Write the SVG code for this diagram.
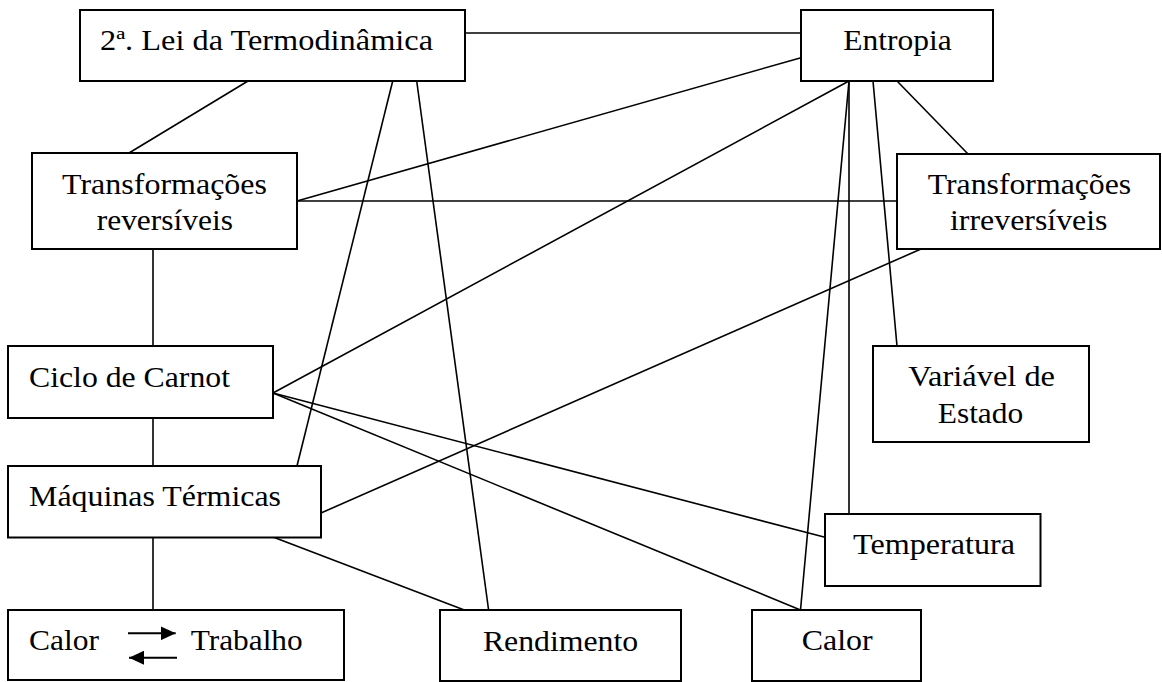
<svg xmlns="http://www.w3.org/2000/svg" width="1162" height="682" viewBox="0 0 1162 682">
<style>
rect.box{fill:#fff;stroke:#000;stroke-width:2}
.edges line{stroke:#000;stroke-width:1.6}
text{font-family:"Liberation Serif","Times New Roman",serif;font-size:29px;fill:#000}
</style>
<defs>
<marker id="ah" viewBox="0 0 15 14" refX="15" refY="7" markerWidth="15" markerHeight="14" markerUnits="userSpaceOnUse" orient="auto">
<polygon points="0,0 15,7 0,14" fill="#000"/>
</marker>
</defs>
<rect width="1162" height="682" fill="#fff"/>
<g class="edges" id="connectors">
<line x1="465" y1="33" x2="801" y2="33"/>
<line x1="248" y1="81" x2="129" y2="153"/>
<line x1="392.7" y1="81" x2="297" y2="466"/>
<line x1="416.7" y1="81" x2="488.6" y2="610"/>
<line x1="801" y1="57.7" x2="297" y2="201"/>
<line x1="297" y1="201" x2="897" y2="201"/>
<line x1="849" y1="81" x2="273" y2="393"/>
<line x1="849" y1="81" x2="849" y2="514"/>
<line x1="849" y1="81" x2="800.5" y2="610"/>
<line x1="873" y1="81" x2="897" y2="346"/>
<line x1="897" y1="81" x2="968" y2="154"/>
<line x1="921" y1="249" x2="321" y2="513"/>
<line x1="273" y1="393" x2="825" y2="537.3"/>
<line x1="273" y1="393" x2="800.5" y2="610"/>
<line x1="273" y1="537" x2="464.3" y2="610"/>
<line x1="153" y1="249" x2="153" y2="346"/>
<line x1="153" y1="418" x2="153" y2="466"/>
<line x1="153" y1="538" x2="153" y2="610"/>
</g>
<g id="n-lei"><rect class="box" x="80" y="10" width="385" height="71"/><text x="100" y="50" textLength="333" lengthAdjust="spacingAndGlyphs">2ª. Lei da Termodinâmica</text></g>
<g id="n-entropia"><rect class="box" x="801" y="10" width="192" height="71"/><text x="843.3" y="50" textLength="108.4" lengthAdjust="spacingAndGlyphs">Entropia</text></g>
<g id="n-trev"><rect class="box" x="32" y="153" width="265" height="96"/><text x="62" y="194" textLength="205" lengthAdjust="spacingAndGlyphs">Transformações</text><text x="96.7" y="230" textLength="136.3" lengthAdjust="spacingAndGlyphs">reversíveis</text></g>
<g id="n-tirr"><rect class="box" x="897" y="154" width="263" height="95"/><text x="927.7" y="194" textLength="203.5" lengthAdjust="spacingAndGlyphs">Transformações</text><text x="950" y="230" textLength="157.5" lengthAdjust="spacingAndGlyphs">irreversíveis</text></g>
<g id="n-ciclo"><rect class="box" x="8" y="346" width="265" height="72"/><text x="29" y="386.7" textLength="201" lengthAdjust="spacingAndGlyphs">Ciclo de Carnot</text></g>
<g id="n-maq"><rect class="box" x="8" y="466" width="313" height="71.5"/><text x="29" y="505.7" textLength="252" lengthAdjust="spacingAndGlyphs">Máquinas Térmicas</text></g>
<g id="n-calortrab"><rect class="box" x="8" y="610" width="336" height="70"/><text x="29" y="650" textLength="70" lengthAdjust="spacingAndGlyphs">Calor</text><text x="190.7" y="650" textLength="112" lengthAdjust="spacingAndGlyphs">Trabalho</text>
<line x1="128" y1="633.3" x2="175.7" y2="633.3" stroke="#000" stroke-width="2" marker-end="url(#ah)"/>
<line x1="177" y1="657.7" x2="129" y2="657.7" stroke="#000" stroke-width="2" marker-end="url(#ah)"/></g>
<g id="n-rend"><rect class="box" x="440" y="610" width="241" height="71"/><text x="482.9" y="650.7" textLength="155.3" lengthAdjust="spacingAndGlyphs">Rendimento</text></g>
<g id="n-calor"><rect class="box" x="752" y="610" width="169" height="71"/><text x="801.7" y="650" textLength="71" lengthAdjust="spacingAndGlyphs">Calor</text></g>
<g id="n-temp"><rect class="box" x="825" y="514" width="215.5" height="72"/><text x="853" y="554.3" textLength="162" lengthAdjust="spacingAndGlyphs">Temperatura</text></g>
<g id="n-var"><rect class="box" x="873" y="346" width="216" height="96"/><text x="908.3" y="386" textLength="146.7" lengthAdjust="spacingAndGlyphs">Variável de</text><text x="937.7" y="423.3" textLength="85.6" lengthAdjust="spacingAndGlyphs">Estado</text></g>
</svg>
